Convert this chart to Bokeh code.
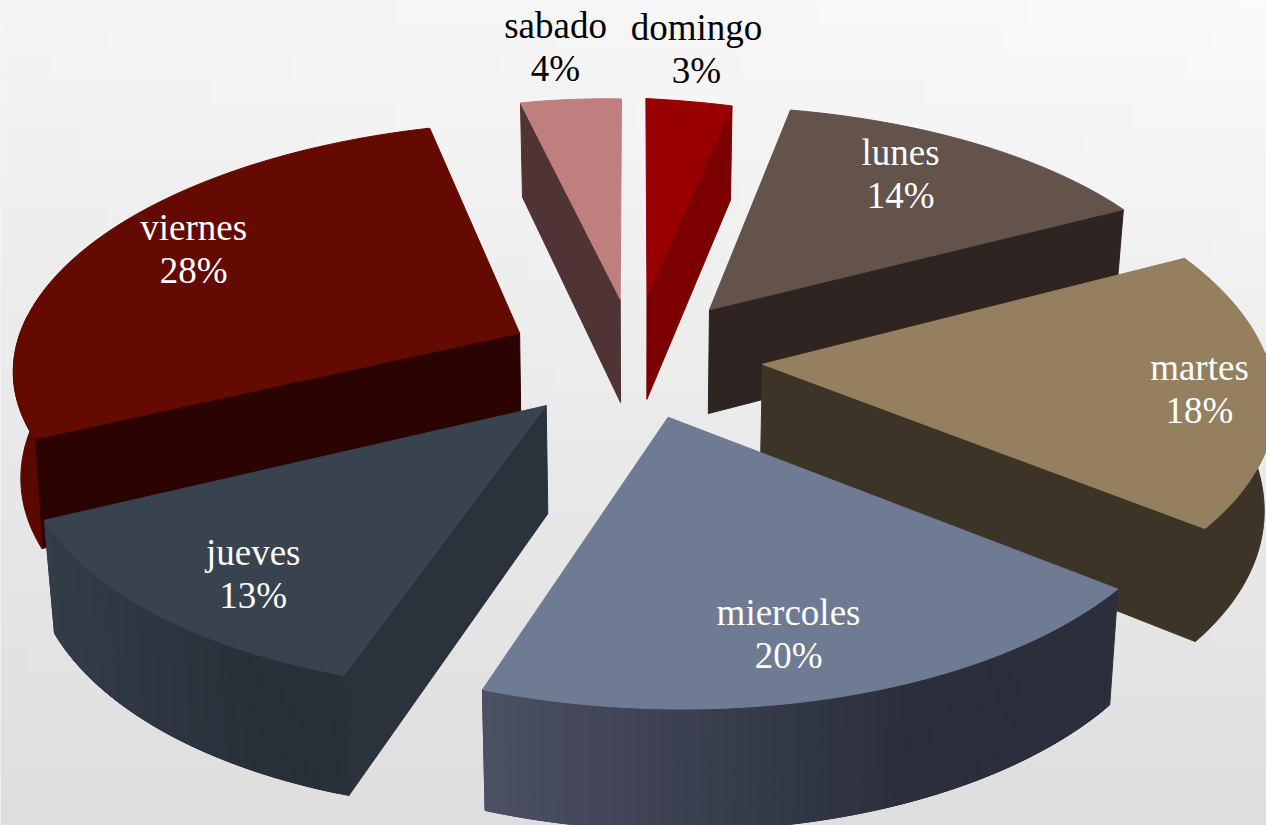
import numpy as np
from bokeh.plotting import figure
from bokeh.models import ColumnDataSource, Range1d
from bokeh.core.properties import value
from bokeh.embed import file_html
from bokeh.resources import INLINE

# ---- data
days = ["domingo", "lunes", "martes", "miercoles", "jueves", "viernes", "sabado"]
percent = [3, 14, 18, 20, 13, 28, 4]

# ---- styling
top_colors = ["#990000", "#63534b", "#947f5f", "#6f7a93", "#38434f", "#640a00", "#c07f7f"]
side_colors = ["#7d0000", "#2e2522", "#3d3428", "#2a2f3b", "#2a323c", "#2b0300", "#503335"]
wall_left = ["#7d0000", "#2e2522", "#3d3428", "#4c5064", "#333d48", "#5a0800", "#503335"]
wall_right = ["#7d0000", "#2e2522", "#3d3428", "#2a2f3b", "#28303a", "#5a0800", "#503335"]
label_colors = ["black", "white", "white", "white", "white", "white", "black"]
label_radius = [1.265, 0.778, 0.861, 0.789, 0.82, 0.816, 1.283]
label_turn = [-0.6, -3.4, 2.2, 4.2, 0.3, 3.8, -0.2]
draw_order = [6, 0, 1, 5, 2, 4, 3]
seen_side = [1, 1, 1, None, 0, 0, 0]  # which cut face of each wedge faces the viewer
# per-slice fine adjustment of the projected wedge about its apex
nudge_x = [-5, -3, -3, -12, -10, -9, -5]
nudge_y = [-11, -8, -5, -7, -6, -7, -8]
warp_a = [1.036, 1.016, 1.0166, 1.0244, 1.018, 1.0115, 0.914]
warp_c = [0.0, -0.0134, -0.028, -0.0367, -0.0553, -0.0633, 0.0]
warp_e = [0.05, 0.0066, 0.0198, 0.019, -0.002, -0.0045, 0.0156]
warp_d = [0.948, 0.9686, 1.0285, 1.0296, 1.0176, 0.988, 0.962]
taper = [0.983, 0.983, 0.983, 0.983, 0.983, 0.988, 0.983]

X0, Y0, BX, BY, K, DEPTH, EXPLODE = 640.0, 365.0, 500.0, 241.0, 0.103, 106.0, 0.25


def project(u, v):
    s = 1.0 / (1.0 - K * v)
    return X0 + BX * u * s, Y0 + BY * v * s, s


def plane_point(theta, r, mid):
    u = EXPLODE * np.sin(mid) + r * np.sin(theta)
    v = -EXPLODE * np.cos(mid) - r * np.cos(theta)
    return project(u, v)


def top_point(theta, r, mid, i):
    ax, ay, _ = plane_point(mid, 0.0, mid)
    x, y, s = plane_point(theta, r, mid)
    dx, dy = x - ax, y - ay
    return (ax + nudge_x[i] + warp_a[i] * dx + warp_c[i] * dy,
            ay + nudge_y[i] + warp_e[i] * dx + warp_d[i] * dy, s)


def mix(a, b, t):
    ca = [int(a[j:j + 2], 16) for j in (1, 3, 5)]
    cb = [int(b[j:j + 2], 16) for j in (1, 3, 5)]
    return "#%02x%02x%02x" % tuple(round(p + (q - p) * t) for p, q in zip(ca, cb))


edges = np.radians(np.concatenate([[0], np.cumsum(percent)]) * 3.6)
mids = (edges[:-1] + edges[1:]) / 2

xs, ys, colors = [], [], []
for i in draw_order:
    a0, a1, mid = edges[i], edges[i + 1], mids[i]

    def bottom_of(x, y, s):
        return X0 + (x - X0) * taper[i], y + DEPTH * s

    apex = top_point(mid, 0.0, mid, i)
    ax, ay = bottom_of(*apex)
    n = max(8, int(percent[i] * 3))
    thetas = np.linspace(a0, a1, n + 1)
    arc = [top_point(t, 1.0, mid, i) for t in thetas]
    low = [bottom_of(*q) for q in arc]
    # the cut face that shows
    if seen_side[i] is not None:
        q = arc[0] if seen_side[i] == 0 else arc[-1]
        b = low[0] if seen_side[i] == 0 else low[-1]
        xs.append([apex[0], q[0], b[0], ax])
        ys.append([apex[1], q[1], b[1], ay])
        colors.append(side_colors[i])
    # the front-facing part of the rim
    front = [j for j, t in enumerate(thetas) if np.radians(85) <= t <= np.radians(275)]
    if len(front) >= 2:
        f0, f1 = front[0], front[-1]
        if wall_left[i] == wall_right[i]:
            xs.append([q[0] for q in arc[f0:f1 + 1]] + [b[0] for b in low[f0:f1 + 1][::-1]])
            ys.append([q[1] for q in arc[f0:f1 + 1]] + [b[1] for b in low[f0:f1 + 1][::-1]])
            colors.append(wall_left[i])
        else:
            x_lo = min(q[0] for q in arc)
            x_hi = max(q[0] for q in arc)
            for j in range(f0, f1):
                k = min(j + 2, f1)
                t = (0.5 * (arc[j][0] + arc[j + 1][0]) - x_lo) / max(x_hi - x_lo, 1)
                c = mix(wall_left[i], wall_right[i], min(1.0, float(t) * 1.5))
                xs.append([arc[j][0], arc[j + 1][0], arc[k][0], low[k][0], low[j + 1][0], low[j][0]])
                ys.append([arc[j][1], arc[j + 1][1], arc[k][1], low[k][1], low[j + 1][1], low[j][1]])
                colors.append(c)
    # top face
    xs.append([apex[0]] + [q[0] for q in arc])
    ys.append([apex[1]] + [q[1] for q in arc])
    colors.append(top_colors[i])

p = figure(width=1266, height=825, output_backend="svg", toolbar_location=None,
           x_range=Range1d(0, 1266), y_range=Range1d(825, 0), min_border=0)
p.axis.visible = False
p.grid.visible = False
p.outline_line_color = None
p.background_fill_color = "#eeeeee"
p.border_fill_color = "#eeeeee"

# soft paper backdrop: light at the top, greyer toward the bottom
cols, rows = 48, 32
cw, ch = 1266 / cols, 825 / rows
bl, br, bt, bb, bc = [], [], [], [], []
for r in range(rows):
    for c in range(cols):
        fx, fy = (c + 0.5) / cols, (r + 0.5) / rows
        lev = int(round(250 - 28 * fy - 6 * (1 - fx) * (1 - fy)))
        bl.append(c * cw)
        br.append((c + 1) * cw + 1)
        bt.append(r * ch)
        bb.append((r + 1) * ch + 1)
        bc.append("#%02x%02x%02x" % (lev, lev, lev))
p.quad(left=bl, right=br, top=bt, bottom=bb, fill_color=bc, line_color=None)

p.patches(xs="xs", ys="ys", fill_color="colors", line_color="colors", line_width=1,
          source=ColumnDataSource(dict(xs=xs, ys=ys, colors=colors)))

lx, ly = [], []
for i, mid in enumerate(mids):
    q = plane_point(mid + np.radians(label_turn[i]), label_radius[i], mid)
    lx.append(q[0])
    ly.append(q[1])
pct = ["%d%%" % v for v in percent]
src = ColumnDataSource(dict(x=lx, y=ly, name=days, pct=pct, c=label_colors))
for col, off in (("name", -23), ("pct", 20)):
    p.text(x="x", y="y", text=col, text_color="c", y_offset=off, text_align="center",
           text_baseline="middle", text_font=value("Liberation Serif"),
           text_font_size="37px", source=src)

open("out.html", "w").write(file_html(p, INLINE))
